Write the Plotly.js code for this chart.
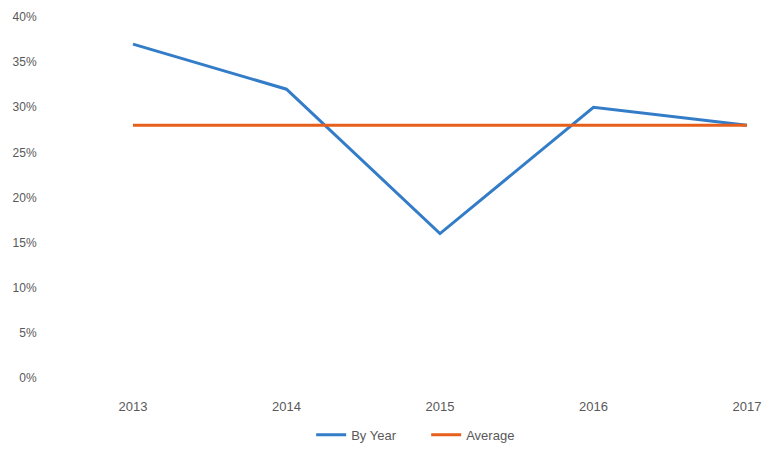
<!DOCTYPE html>
<html>
<head>
<meta charset="utf-8">
<script src="https://cdn.plot.ly/plotly-3.0.1.min.js"></script>
<style>html,body{margin:0;padding:0;background:#fff;}#chart{width:762px;height:450px;}</style>
</head>
<body>
<div id="chart"></div>
<script>
const years = ['2013', '2014', '2015', '2016', '2017'];
const byYear = [0.37, 0.32, 0.16, 0.30, 0.28];
const average = [0.28, 0.28, 0.28, 0.28, 0.28];
const yTickVals = [0, 0.05, 0.10, 0.15, 0.20, 0.25, 0.30, 0.35, 0.40];
const yTickText = ['0%', '5%', '10%', '15%', '20%', '25%', '30%', '35%', '40%'];

const traces = [
  {x: years, y: byYear, name: 'By Year', type: 'scatter', mode: 'lines',
   line: {color: '#337cc8', width: 3}},
  {x: years, y: average, name: 'Average', type: 'scatter', mode: 'lines',
   line: {color: '#e65f1c', width: 3}}
];
const layout = {
  width: 762, height: 450,
  margin: {l: 55, r: 0, t: 17, b: 70},
  paper_bgcolor: '#fff', plot_bgcolor: '#fff',
  font: {family: '"Liberation Sans", Arial, sans-serif', size: 12, color: '#595959'},
  showlegend: true,
  legend: {orientation: 'h', x: 0.525, xanchor: 'center', y: -0.157, yanchor: 'middle',
           entrywidth: 70, font: {size: 13, color: '#595959'}},
  xaxis: {type: 'category', range: [-0.508, 4.098], showgrid: false, zeroline: false,
          showline: false, ticks: 'outside', ticklen: 16, tickcolor: 'rgba(0,0,0,0)',
          tickfont: {size: 13}},
  yaxis: {range: [0, 0.40], tickvals: yTickVals, ticktext: yTickText, showgrid: false,
          zeroline: false, showline: false, ticks: 'outside', ticklen: 15,
          tickcolor: 'rgba(0,0,0,0)', tickfont: {size: 12}}
};
Plotly.newPlot('chart', traces, layout, {displayModeBar: false});
</script>
</body>
</html>
